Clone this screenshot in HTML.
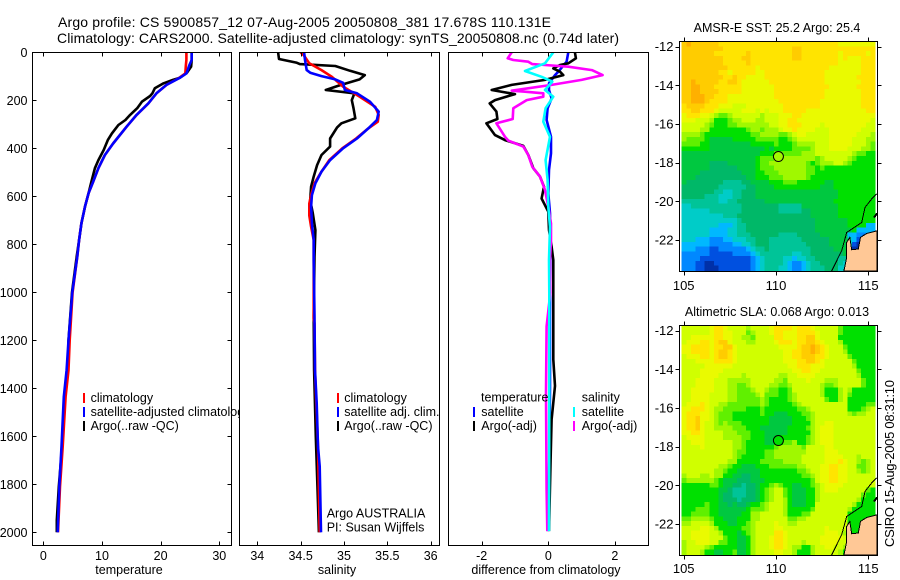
<!DOCTYPE html>
<html>
<head>
<meta charset="utf-8">
<title>Argo profile</title>
<style>
html,body{margin:0;padding:0;background:#fff;}
svg{display:block;}
text{font-family:"Liberation Sans",sans-serif;fill:#000;}
.t{font-size:12.5px;}
.m{font-size:13px;}
.h{font-size:14px;}
</style>
</head>
<body>
<svg id="chart" xmlns="http://www.w3.org/2000/svg" width="900" height="580" viewBox="0 0 900 580">
<rect x="0" y="0" width="900" height="580" fill="#fff"/>
<text class="h" x="58" y="27" textLength="493" lengthAdjust="spacing">Argo profile: CS 5900857_12 07-Aug-2005 20050808_381 17.678S 110.131E</text>
<text class="h" x="57" y="43" textLength="562" lengthAdjust="spacing">Climatology: CARS2000. Satellite-adjusted climatology: synTS_20050808.nc (0.74d later)</text>
<g id="p1"></g>
<g id="p2"></g>
<g id="p3"></g>
<g id="m1"></g>
<g id="m2"></g>
<text class="m" transform="translate(894,547) rotate(-90)" textLength="167" lengthAdjust="spacing">CSIRO 15-Aug-2005 08:31:10</text>
</svg>
<script>
// ---------- profile data ----------
const depthTicks = [0,200,400,600,800,1000,1200,1400,1600,1800,2000];
const tempTicks = [0,10,20,30];
const salTicks = [34,34.5,35,35.5,36];
const diffTicks = [-2,0,2];

const tempClimDepths = [0,32,53,88,106,136,171,213,261,310,380,428,483,539,588,643,713,782,851,1000,1200,1324,1436,1643,1810,2000];
const tempClim = [24.4,24.4,24.3,24.2,23.2,21,19.3,17.9,15.9,14.2,11.9,10.5,9.4,8.5,7.7,7.1,6.5,6.1,5.8,5.0,4.5,4.3,3.8,3.3,2.85,2.5];
const tempSat = [25.3,25.3,24.9,24.4,23.3,21,19.3,17.9,15.9,14.2,11.9,10.5,9.4,8.5,7.7,7.1,6.5,6.1,5.8,4.95,4.3,3.98,3.5,3.1,2.73,2.45];
const tempArgoDepths = [0,32,60,85,106,115,129,150,171,182,206,233,261,282,303,338,366,407,449,483,539,588,643,713,782,851,1000,1200,1324,1436,1643,1810,1950,2000];
const tempArgo = [25.3,25.3,25.2,24.5,23.3,22.1,20.5,19,18.6,18.2,16.8,16,14.8,14,12.8,11.7,11,10.3,9.4,8.8,8.2,7.7,7.1,6.5,6.1,5.7,4.9,4.3,4.2,3.7,3.2,2.65,2.3,2.3];

const salSatDepths = [0,32,74,85,99,113,127,157,171,206,247,282,317,359,400,449,497,546,595,643,713,782,866,1100,1324,1462,1642,1725,2000];
const salSat = [34.54,34.55,34.57,34.61,34.74,34.9,34.99,35.01,35.15,35.3,35.4,35.38,35.28,35.15,34.99,34.84,34.74,34.67,34.63,34.62,34.63,34.65,34.65,34.66,34.665,34.685,34.7,34.72,34.735];
const salClimDepths = [0,14,46,74,102,143,185,227,261,289,317,359,400,449,497,546,595,630,680,727,782,1000,1110,1130,1324,1642,2000];
const salClim = [34.5,34.54,34.6,34.74,34.86,34.99,35.18,35.36,35.4,35.39,35.28,35.14,34.98,34.83,34.74,34.66,34.62,34.6,34.6,34.62,34.65,34.65,34.65,34.66,34.665,34.7,34.72];
const salArgoDepths = [0,28,43,49,57,77,95,113,129,140,157,171,199,233,275,296,313,359,393,428,470,518,560,616,671,741,852,1100,1324,1600,1880,2000];
const salArgo = [34.24,34.25,34.45,34.49,34.9,35.07,35.24,35.18,35.03,34.93,34.79,35.12,35.09,35.11,35.13,34.97,34.92,34.84,34.84,34.74,34.69,34.65,34.62,34.61,34.64,34.67,34.66,34.65,34.655,34.675,34.7,34.71];

const diffSalArgoDepths = [0,25,32,39,49,53,60,74,95,115,136,160,164,171,185,199,233,278,296,352,368,393,428,477,518,574,643,713,782,866,1003,1142,1420,1820,1995];
const diffSalArgo = [-1.1,-1.22,-1.05,-0.6,-0.48,-0.1,0.6,1.31,1.63,1.0,0.1,-1.1,-0.7,-0.15,-0.15,-0.65,-1.05,-1.07,-1.56,-1.3,-1.2,-0.75,-0.6,-0.48,-0.25,-0.1,0,0.08,0.08,0.05,0.06,-0.05,-0.07,-0.05,-0.03];
const diffTempArgoDepths = [0,25,46,53,67,81,95,115,136,157,174,199,213,247,278,296,345,366,390,428,483,518,560,609,664,741,810,866,1075,1280,1390,1460,1530,1697,1995];
const diffTempArgo = [0.8,0.83,0.6,0.35,0.15,0.35,0.45,-0.1,-1.1,-1.7,-1.0,-1.6,-1.76,-1.56,-1.53,-1.86,-1.6,-1.3,-0.75,-0.6,-0.45,-0.25,-0.13,-0.2,0,0.02,0.1,0.15,0.15,0.15,0.2,0.15,0.1,0.07,0.02];
const diffTempSatDepths = [0,39,81,95,129,157,192,233,282,352,421,490,588,670,782,900,1100,1400,1700,1995];
const diffTempSat = [0.6,0.55,0.3,0.2,0.02,0.02,0.1,-0.02,-0.05,0.08,0.08,0.02,0,0.05,0.06,0.06,0.05,0.05,0.03,-0.02];
const diffSalSatDepths = [0,46,78,102,122,157,185,233,289,352,449,532,643,727,866,1003,1420,1995];
const diffSalSat = [0.15,-0.1,-0.7,-0.2,0.12,-0.1,0.15,-0.08,-0.15,0.05,-0.08,-0.02,0,0.05,0.02,0.03,0.03,0.02];

// ---------- map data: one hex colour level per 0.25 degree cell, north to south ----------
const sstLevels = [
"efeeee eedddd dddddd dddddd dddddd ddddcc cccccc",
"eeeeee eeeddd dddddd dddddd eedddd dddddd dddddd",
"eeeeee eddddd ddeddd dddddd eedddd ddddcd ddddcd",
"eeeeee eeeddd deeddd dddddd eedddd ddddcd cccddd",
"eeeeee eeeddd ddeddd dddddd dddddd ddddcc cccddd",
"eeeeee eeeedd ddddcd dddddd dddddd ddcccc cccddd",
"eeeeee eeddcd ddddcc dddddd dddddd dccccc cccddd",
"eeeeee eeedde ddcccc dddddd dddddd dccccc ccdddd",
"eefeee eeddee dccccc cddddd dddddd dccccc cccddd",
"eeffee eddddd dccccc ccdddd dddddd ddcccc ccdddd",
"eeffee eedddd dccccc ccdddd dddddd dccccc cccddd",
"eefffe edddcc cccccc ccdddd dddddd dccccc cccddd",
"eefffe ddddcc cccccc cccddd dddddd cccccc cccddd",
"deeeed ddcccb bbcccc ccccdd dddddd cccccc cccddd",
"ddeedd dcbbbb bcccbc bcccdd dddccc cccccc ccccdd",
"cdddcc ba99ab bbbbba bbbccc ddcccc cccccc cccccc",
"cccbbb a8889a abbbaa bbbccd dccccc cccccc cccccb",
"bbbbba 988899 aaaaaa abbccd ddcccc bccccc ccccbb",
"bbbbaa 888888 889aa9 aaabcc dccccb bbcccc cccbbb",
"aaaa98 888888 88899a aaa99a bccbbb bbcccc ccbbba",
"a99998 777778 888899 999889 abbbbb bbcccc cbbbaa",
"999988 777777 777888 889888 9aaaab bbcccc cbbba9",
"888888 777777 777777 878888 9999ab bbcccc bbbaa9",
"777777 777777 777778 889999 99aaab bbbbbb ba9988",
"777777 777777 777789 99aaaa aaaaa9 abbbbb a98888",
"777777 666677 777789 9aaaaa aaa989 aaabba 988888",
"777777 666666 777789 99aaaa aaa998 988888 888888",
"777766 666666 677788 999aaa aaa998 888888 888888",
"777666 666666 667788 8999aa aaa988 888888 888888",
"766666 666555 566777 788899 988888 877888 888888",
"666666 665555 556677 778888 888888 777888 888888",
"666666 655445 566677 777777 777777 777788 888888",
"666665 554445 566677 777777 777777 777788 888888",
"555555 554455 666666 777777 777777 777888 888888",
"445555 555555 566666 666555 557777 777788 888888",
"444444 555555 566666 666555 556677 777788 888888",
"444444 444555 666666 666666 666677 777788 888888",
"444444 444444 566666 666666 666667 777777 888888",
"444444 443334 556666 666666 666667 777777 888833",
"444444 333344 556666 666666 666667 777777 783333",
"444444 333344 555666 666555 566666 777777 332233",
"444333 222334 445566 655555 556666 667777 431000",
"333333 222223 344566 655555 555666 667777 410088",
"333222 112222 223455 655555 555566 666777 100888",
"222222 111112 222345 555555 445566 666667 008888",
"222211 111111 111234 555544 344556 666655 888888",
"222110 011111 111234 555543 223455 666654 888888",
"222110 001111 111234 555443 223455 566644 888888"
];
const slaLevels = [
"bbbbbb cddcbb bbabbb bcdddd cdddcb bbbb98 888888",
"bbbbbb cddccb bb9abb bcddcc cddddc bbbb98 888888",
"bbcccc cddccb baa9bb bbddcc cddeec bbbb88 888888",
"bcccdd cdeecb bbaabb bbcddd cddeed cbbba8 888888",
"ccdddd cddeec bbbbbb bbbccc cdeefe dcbbb9 888888",
"ccdddd cdeedc bbbbbb bbbbcc ddeefe dcbbba 888888",
"bcccdd cdeedc bbbbbb bbbbcc ddeeed dcbbbb 988888",
"bbbccc cddddc bbbbbb bbbbcc cddeed cbbbbb b98888",
"bbbbbc cccccb bbbbbb bbbbbc cdddcc cbbbbb ba8888",
"bbbbcc cccbbb bbbbbb bbbbbb ccddcc bbbbbb bb9888",
"bbbbcc ccbbbb babbbb bbbaab bccccb bbbbbb bba888",
"bbbccc cbbbaa aaabbb bbaa9b bbbcbb baaabb bbb988",
"bbbccc cbbbaa 99abbb baa99a bbbbbb a99abb bbb988",
"bbcccc cbbbaa 999abb a99889 bbbbbb a888ab a88888",
"bbcccc bbbbaa 9999ab 999889 abbbbb a888ab 988888",
"bbcccc bbbbaa 99999a 988889 abbbbb b988ab 888888",
"bcccdc bbaa99 99999a 988888 9abbbb bbbbbb 888899",
"ccdddc baa999 998889 888888 899abb bbbbbb 8889ab",
"cdddcc ba9998 888889 887778 8899ab bbbbbb a9aabb",
"cddecc ba9998 888888 877777 8889ab bbbbbb bbbbbb",
"cddecb ba9a99 988888 877777 8888ab bccbbb bbbbbb",
"cddecb baaaa9 998887 777778 8889ab cccbbb bbbbbb",
"ccddcb bbbaaa 999888 777778 8888ab cccbbb bbbbbb",
"bccccb bbbaaa a99888 777888 8889ab cccbbb bbbbbb",
"bbcccb bbbbba a98888 778899 a889ab cccbbb bbbbbb",
"bbbbcb bbbbba a98888 889aaa aa9bbb bccbbb bbbbbb",
"bbbbbb bbbbba 998888 99aaaa aaabbb bcccbb bbbbbb",
"bbbbbb bbbbba 988888 99aaaa aabbbb bccccb bbabbb",
"bbbbbb bbbbaa 888889 9999aa aabbbb bcccdc bba9ab",
"bbbbbb bbaa98 877788 899999 9aabbb ccddcc bb99ab",
"bbbbbb baa988 777778 888888 899abb ccddcc bba9ab",
"abbbaa baa887 766778 888888 8899ab ccddcc bbbbbb",
"9aaaaa a98777 666777 888888 88889b ccddcc bbbbbb",
"888888 998776 656678 89a988 77889a bccccb bbbbbb",
"888888 887765 556678 9abb98 77788a bcccbb bbbb98",
"888888 887665 556678 9abb98 77788a bbbbbb bbb988",
"888888 887666 566678 9abba8 77788a bbbbbb bba888",
"888889 887767 667889 abbba8 77788b bbbbbb ba8888",
"888999 887777 778999 abbba8 88889b bbbbbb a88888",
"889999 887777 788aab bbbba8 8899bb bbbbbb 888888",
"99aaaa 988777 888aab bbbbb9 9aabbb bbbbbb 888888",
"aabbbb a88877 889abb bbcbba abbbbb bbbbbb 888888",
"bbbbcc ba8888 899abb bbccbb bbbbbb bcbbbb 888888",
"bbcccc bba888 789abb bbddcb bbbbbb bcccba 888888",
"bbcccc bbb988 778abb bcddcb bbbbbb cccccb 888888",
"abbccc bb9988 778abb bcddcb bbabbb ccccbb 888888",
"abbbba 988888 778abb bcddcb aa88ab bccbba 888888",
"abbba8 877889 778abb bbccbb a888ab bbbba8 888888"
];
const colorLevels = ["#0030a8","#0050e0","#0088ff","#00b8ff","#00ccc8","#00c498","#00b868","#00c840","#00e000","#60f000","#a0f800","#d0ff00","#eafa00","#ffe400","#ffcc00","#ffb000"];
const lonTicks = [105,110,115];
const latTicks = [-12,-14,-16,-18,-20,-22];
const landLons = [115.47,114.91,114.58,114.46,114.1,114.0,113.83,113.83,113.68,115.47];
const landLats = [-21.52,-21.66,-21.86,-22.46,-22.5,-21.86,-22.12,-22.9,-23.6,-23.6];
const contourLons = [113.01,113.56,113.83,114.1,114.64,114.82,115.18,115.45];
const contourLats = [-23.6,-22.55,-21.6,-21.43,-21.09,-20.31,-19.88,-19.62];
const islandLons = [115.31,115.47];
const islandLats = [-20.83,-20.62];
const floatLon = 110.131;
const floatLat = -17.678;
const sstFloatLevel = 10;
const slaFloatLevel = 8;

// ---------- helpers ----------
const NS = "http://www.w3.org/2000/svg";
function mk(tag, parent, attrs){
  const e = document.createElementNS(NS, tag);
  for (const k in attrs) e.setAttribute(k, attrs[k]);
  parent.appendChild(e);
  return e;
}
function linear(d0, d1, r0, r1){
  return v => r0 + (v - d0) * (r1 - r0) / (d1 - d0);
}
const depthY = linear(0, 2000, 52.3, 532.3);

function drawFrame(g, box, name){
  const r = mk("rect", g, {x:box.l, y:box.t, width:box.r-box.l, height:box.b-box.t, fill:"none", stroke:"#000", "stroke-width":1, "shape-rendering":"crispEdges"});
  
  
}

function drawPanel(id, box, xScale, xTicks, xTitle, titleX, series, name){
  const g = document.getElementById(id);
  const bg = mk("rect", g, {x:box.l, y:box.t, width:box.r-box.l, height:box.b-box.t, fill:"#fff"});
  
  
  const clipId = id + "clip";
  const defs = mk("defs", g, {});
  const cp = mk("clipPath", defs, {id:clipId});
  mk("rect", cp, {x:box.l, y:box.t, width:box.r-box.l, height:box.b-box.t});
  const lines = mk("g", g, {"clip-path":"url(#" + clipId + ")"});
  series.forEach(s => {
    const pts = s.values.map((v, i) => xScale(v).toFixed(1) + "," + depthY(s.depths[i]).toFixed(1)).join(" ");
    const pl = mk("polyline", lines, {points:pts, fill:"none", stroke:s.color, "stroke-width":s.w || 2.6, "stroke-linejoin":"round"});
    
    
  });
  drawFrame(g, box, name + '-frame');
  xTicks.forEach(v => {
    const x = Math.round(xScale(v)) + 0.5;
    const t1 = mk("line", g, {x1:x, x2:x, y1:box.t, y2:box.t+4, stroke:"#000", "shape-rendering":"crispEdges"});
    
    
    const t2 = mk("line", g, {x1:x, x2:x, y1:box.b, y2:box.b-4, stroke:"#000", "shape-rendering":"crispEdges"});
    
    
    const lab = mk("text", g, {x:xScale(v), y:560, "text-anchor":"middle", class:"t"});
    lab.textContent = String(v);
    
    
  });
  const xt = mk("text", g, {x:titleX, y:574, "text-anchor":"middle", class:"t"});
  xt.textContent = xTitle;
  
  
  return g;
}

function legendEntry(g, barX, textX, y, color, label){
  if (color){
    const b = mk("rect", g, {x:barX, y:y-9, width:2, height:10, fill:color, "shape-rendering":"crispEdges"});
    
    
  }
  const t = mk("text", g, {x:textX, y:y, class:"t"});
  t.textContent = label;
  
  
}

// ---------- panel 1 ----------
const box1 = {l:32.5, r:231.5, t:52.5, b:545.5};
const g1 = drawPanel("p1", box1, linear(0, 30, 43.3, 219.3), tempTicks, "temperature", 129, [
  {name:'temperature-argo-line', color:"#000", values:tempArgo, depths:tempArgoDepths},
  {name:'temperature-climatology-line', color:"#f00", values:tempClim, depths:tempClimDepths},
  {name:'temperature-satellite-line', color:"#00f", values:tempSat, depths:tempClimDepths}
], 'temperature');
depthTicks.forEach(d => {
  const y = Math.round(depthY(d)) + 0.5;
  const a = mk("line", g1, {x1:box1.l, x2:box1.l+4, y1:y, y2:y, stroke:"#000", "shape-rendering":"crispEdges"});
  
  
  const b = mk("line", g1, {x1:box1.r, x2:box1.r-4, y1:y, y2:y, stroke:"#000", "shape-rendering":"crispEdges"});
  
  
  const l = mk("text", g1, {x:27.5, y:depthY(d)+4.5, "text-anchor":"end", class:"t"});
  l.textContent = String(d);
  
  
});
legendEntry(g1, 83, 90.6, 402, "#f00", "climatology");
legendEntry(g1, 83, 90.6, 416, "#00f", "satellite-adjusted climatology");
legendEntry(g1, 83, 90.6, 430, "#000", "Argo(..raw -QC)");

// ---------- panel 2 ----------
const box2 = {l:239.5, r:439.5, t:52.5, b:545.5};
const g2 = drawPanel("p2", box2, linear(34, 36, 257.3, 430.7), salTicks, "salinity", 337, [
  {name:'salinity-argo-line', color:"#000", values:salArgo, depths:salArgoDepths},
  {name:'salinity-climatology-line', color:"#f00", values:salClim, depths:salClimDepths},
  {name:'salinity-satellite-line', color:"#00f", values:salSat, depths:salSatDepths}
], 'salinity');
legendEntry(g2, 337, 344.3, 402, "#f00", "climatology");
legendEntry(g2, 337, 344.3, 416, "#00f", "satellite adj. clim.");
legendEntry(g2, 337, 344.3, 430, "#000", "Argo(..raw -QC)");
legendEntry(g2, 0, 326.7, 517.3, null, "Argo AUSTRALIA");
legendEntry(g2, 0, 326.7, 531.3, null, "PI: Susan Wijffels");

// ---------- panel 3 ----------
const box3 = {l:448.5, r:648.5, t:52.5, b:545.5};
const g3 = drawPanel("p3", box3, linear(-2, 2, 481.7, 614.9), diffTicks, "difference from climatology", 546, [
  {name:'diff-temp-satellite-line', color:"#00f", values:diffTempSat, depths:diffTempSatDepths},
  {name:'diff-temp-argo-line', color:"#000", values:diffTempArgo, depths:diffTempArgoDepths},
  {name:'diff-sal-argo-line', color:"#f0f", values:diffSalArgo, depths:diffSalArgoDepths},
  {name:'diff-sal-satellite-line', color:"#0ff", values:diffSalSat, depths:diffSalSatDepths}
], 'difference');
legendEntry(g3, 0, 481, 401.7, null, "temperature");
legendEntry(g3, 473, 481.3, 416, "#00f", "satellite");
legendEntry(g3, 473, 481.3, 430, "#000", "Argo(-adj)");
legendEntry(g3, 0, 581.7, 401.7, null, "salinity");
legendEntry(g3, 573, 581.7, 416, "#0ff", "satellite");
legendEntry(g3, 573, 581.7, 430, "#f0f", "Argo(-adj)");

// ---------- maps ----------
function drawMap(id, levels, box, lat12Y, labelY, title, titleY, floatLevel, name){
  const g = document.getElementById(id);
  const lonX = linear(105, 115, 683.7, 868.3);
  const latY = linear(-12, -22, lat12Y, lat12Y + 193.4);
  const imgL = 681.7, imgR = 875;
  const cw = (imgR - imgL) / 42;
  const ch = (box.b - box.t - 1) / 48;
  levels.forEach((row, r) => {
    const vals = row.replace(/ /g, "");
    for (let c = 0; c < vals.length; c++){
      const lvl = parseInt(vals[c], 16);
      const cell = mk("rect", g, {x:(imgL + c*cw).toFixed(2), y:(box.t + r*ch).toFixed(2), width:(cw+0.4).toFixed(2), height:(ch+0.4).toFixed(2), fill:colorLevels[lvl], "shape-rendering":"crispEdges"});
      
      
    }
  });
  const land = mk("polygon", g, {points:landLons.map((v,i) => lonX(v).toFixed(1)+","+Math.min(latY(landLats[i]), box.b-0.5).toFixed(1)).join(" "), fill:"#ffc896", stroke:"#000", "stroke-width":1, "shape-rendering":"crispEdges"});
  
  
  const cont = mk("polyline", g, {points:contourLons.map((v,i) => lonX(v).toFixed(1)+","+Math.min(latY(contourLats[i]), box.b).toFixed(1)).join(" "), fill:"none", stroke:"#000", "stroke-width":1, "shape-rendering":"crispEdges"});
  
  
  const isl = mk("polyline", g, {points:islandLons.map((v,i) => lonX(v).toFixed(1)+","+latY(islandLats[i]).toFixed(1)).join(" "), fill:"none", stroke:"#000", "stroke-width":2, "shape-rendering":"crispEdges"});
  
  
  const dot = mk("circle", g, {cx:lonX(floatLon), cy:latY(floatLat), r:5, fill:colorLevels[floatLevel], stroke:"#000", "stroke-width":1});
  
  
  drawFrame(g, box, name + '-frame');
  lonTicks.forEach(v => {
    const x = Math.round(lonX(v)) + 0.5;
    const a = mk("line", g, {x1:x, x2:x, y1:box.t, y2:box.t-4, stroke:"#000", "shape-rendering":"crispEdges"});
    
    
    const b = mk("line", g, {x1:x, x2:x, y1:box.b, y2:box.b+4, stroke:"#000", "shape-rendering":"crispEdges"});
    
    
    const l = mk("text", g, {x:lonX(v), y:labelY, "text-anchor":"middle", class:"m"});
    l.textContent = String(v);
    
    
  });
  latTicks.forEach(v => {
    const y = Math.round(latY(v)) + 0.5;
    const a = mk("line", g, {x1:box.l, x2:box.l-4, y1:y, y2:y, stroke:"#000", "shape-rendering":"crispEdges"});
    
    
    const b = mk("line", g, {x1:box.r, x2:box.r+4, y1:y, y2:y, stroke:"#000", "shape-rendering":"crispEdges"});
    
    
    const l = mk("text", g, {x:673.5, y:latY(v)+4.5, "text-anchor":"end", class:"m"});
    l.textContent = String(v);
    
    
  });
  const t = mk("text", g, {x:777, y:titleY, "text-anchor":"middle", class:"t"});
  t.textContent = title;
  
  
}
drawMap("m1", sstLevels, {l:679.5, r:877.5, t:41.5, b:271.5}, 46.7, 290, "AMSR-E SST: 25.2 Argo: 25.4", 32, sstFloatLevel, 'sst');
drawMap("m2", slaLevels, {l:679.5, r:877.5, t:325.5, b:555.5}, 330.7, 573, "Altimetric SLA: 0.068 Argo: 0.013", 316, slaFloatLevel, 'sla');
</script>
</body>
</html>
